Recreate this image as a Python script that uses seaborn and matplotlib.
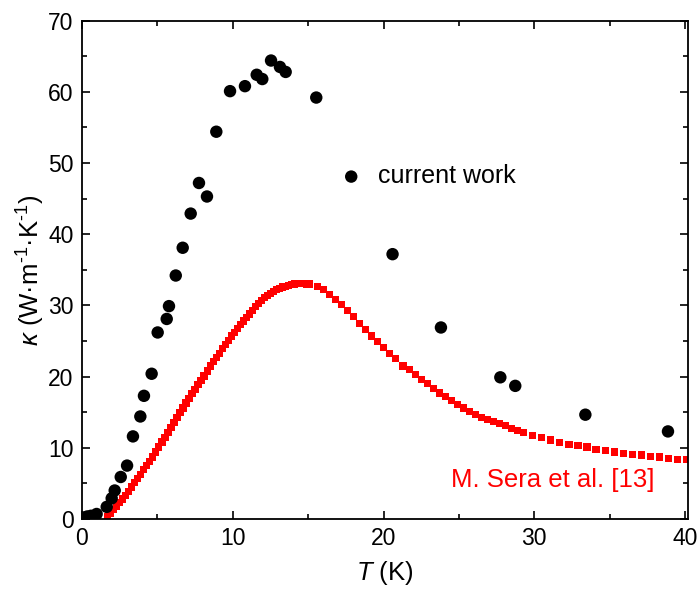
import matplotlib
matplotlib.use("Agg")
import matplotlib.pyplot as plt
import seaborn as sns
import pandas as pd
from matplotlib.ticker import MultipleLocator

# ---- data ----
cur_T = [0.1, 0.35, 0.6, 0.97, 1.64, 1.97, 2.17, 2.57, 2.99, 3.38, 3.87, 4.11,
         4.62, 5.02, 5.62, 5.77, 6.22, 6.68, 7.21, 7.76, 8.29, 8.91, 9.82,
         10.81, 11.59, 11.96, 12.54, 13.13, 13.51, 15.54, 20.6, 23.81, 27.75,
         28.74, 33.39, 38.87]
cur_k = [0.2, 0.35, 0.45, 0.7, 1.7, 2.9, 4.0, 5.9, 7.5, 11.6, 14.4, 17.3,
         20.4, 26.2, 28.1, 29.9, 34.2, 38.1, 42.9, 47.2, 45.3, 54.4, 60.1,
         60.8, 62.4, 61.8, 64.4, 63.5, 62.8, 59.2, 37.2, 26.9, 19.9,
         18.7, 14.65, 12.3]

sera_T = [1.7, 1.9, 2.1, 2.3, 2.5, 2.7, 2.9, 3.1, 3.3, 3.5, 3.7, 3.9, 4.1, 4.3,
          4.5, 4.7, 4.9, 5.1, 5.3, 5.5, 5.7, 5.9, 6.1, 6.3, 6.5, 6.7, 6.9, 7.1,
          7.3, 7.5, 7.7, 7.9, 8.1, 8.3, 8.5, 8.7, 8.9, 9.1, 9.3, 9.5, 9.7, 9.9,
          10.1, 10.3, 10.5, 10.7, 10.9, 11.1, 11.3, 11.5, 11.7, 11.9, 12.1, 12.3,
          12.5, 12.7, 12.9, 13.1, 13.3, 13.5, 13.7, 13.9, 14.1, 14.3, 14.5, 14.7,
          14.9, 15.1, 15.6, 16.0, 16.4, 16.8, 17.2, 17.6, 18.0, 18.4, 18.8, 19.2,
          19.6, 20.0, 20.4, 20.8, 21.3, 21.7, 22.1, 22.5, 22.9, 23.3, 23.7, 24.1,
          24.5, 24.9, 25.3, 25.7, 26.1, 26.5, 26.9, 27.3, 27.7, 28.1, 28.5, 28.9,
          29.3, 29.9, 30.5, 31.1, 31.7, 32.3, 32.9, 33.5, 34.1, 34.7, 35.3, 35.9,
          36.5, 37.1, 37.7, 38.3, 38.9, 39.5, 40.1]
sera_k = [0.4, 0.8, 1.3, 1.8, 2.3, 2.8, 3.3, 3.9, 4.5, 5.1, 5.7, 6.3, 6.9, 7.5,
          8.1, 8.7, 9.4, 10.1, 10.8, 11.5, 12.2, 12.9, 13.6, 14.3, 15.0, 15.6,
          16.3, 16.9, 17.6, 18.2, 18.9, 19.5, 20.1, 20.8, 21.5, 22.1, 22.7, 23.3,
          23.9, 24.5, 25.1, 25.7, 26.2, 26.8, 27.3, 27.8, 28.3, 28.8, 29.3, 29.8,
          30.3, 30.7, 31.1, 31.4, 31.7, 32.0, 32.2, 32.4, 32.6, 32.7, 32.8, 32.9,
          33.0, 33.1, 33.1, 33.1, 33.0, 33.0, 32.7, 32.2, 31.5, 30.8, 30.1, 29.3,
          28.4, 27.5, 26.6, 25.7, 24.9, 24.1, 23.3, 22.5, 21.5, 21.0, 20.3, 19.6,
          19.0, 18.3, 17.7, 17.2, 16.6, 16.1, 15.6, 15.1, 14.7, 14.3, 14.0, 13.7,
          13.4, 13.1, 12.7, 12.4, 12.1, 11.7, 11.4, 11.1, 10.7, 10.5, 10.3, 10.1,
          9.8, 9.6, 9.4, 9.2, 9.1, 9.0, 8.8, 8.7, 8.5, 8.4, 8.4]

cur_label = "current work"
sera_label = "M. Sera et al. [13]"

# ---- style ----
sns.set_style("ticks")
plt.rcParams["font.family"] = ["Liberation Sans", "DejaVu Sans"]
plt.rcParams["mathtext.fontset"] = "custom"
plt.rcParams["mathtext.rm"] = "Liberation Sans"
plt.rcParams["mathtext.it"] = "Liberation Sans:italic"
plt.rcParams["text.color"] = "black"
plt.rcParams["axes.labelcolor"] = "black"

fig = plt.figure(figsize=(6.99, 5.94), dpi=100)
ax = fig.add_axes([0.1173, 0.1263, 0.867, 0.8389])

df_cur = pd.DataFrame({"T": cur_T, "k": cur_k})
df_sera = pd.DataFrame({"T": sera_T, "k": sera_k})

sns.scatterplot(data=df_sera, x="T", y="k", marker="s", s=27, color="#ff0000",
                edgecolor="none", linewidth=0, ax=ax, zorder=2)
sns.scatterplot(data=df_cur, x="T", y="k", marker="o", s=80, color="black",
                edgecolor="none", linewidth=0, ax=ax, zorder=3, label=cur_label)

ax.set_xlim(0, 40.2)
ax.set_ylim(0, 70)
ax.xaxis.set_major_locator(MultipleLocator(10))
ax.xaxis.set_minor_locator(MultipleLocator(5))
ax.yaxis.set_major_locator(MultipleLocator(10))
ax.yaxis.set_minor_locator(MultipleLocator(5))
ax.tick_params(which="both", direction="in", top=True, right=True,
               labelsize=16.5, width=1.2, colors="black", pad=6)
ax.tick_params(which="major", length=6)
ax.tick_params(which="minor", length=3.5)
for sp in ax.spines.values():
    sp.set_linewidth(1.3)
    sp.set_color("black")

ax.set_xlabel(r"$T$ (K)", fontsize=18.5, labelpad=6)
ax.set_ylabel("$\\kappa$ (W·m$^{\u2010\\mathrm{1}}$·K$^{\u2010\\mathrm{1}}$)",
              fontsize=18.5, labelpad=1)

leg = ax.legend(loc="center left", bbox_to_anchor=(0.3865, 0.688), frameon=False,
                fontsize=18, handlelength=1.0, handletextpad=0.58,
                borderpad=0.4, markerscale=1.0)

ax.text(0.945, 0.078, sera_label, transform=ax.transAxes, color="#ff0000",
        fontsize=18.5, ha="right", va="center")

fig.savefig("out.png", dpi=100)
